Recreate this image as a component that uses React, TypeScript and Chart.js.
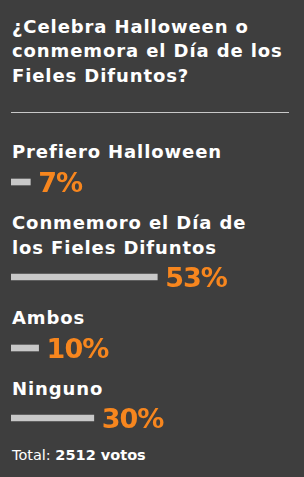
import React, { useEffect, useRef } from "react";
import { Chart, registerables } from "chart.js";

Chart.register(...registerables);

const TITLE_LINES = ["¿Celebra Halloween o", "conmemora el Día de los", "Fieles Difuntos?"];
const OPTION_LABELS: string[][] = [
  ["Prefiero Halloween"],
  ["Conmemoro el Día de", "los Fieles Difuntos"],
  ["Ambos"],
  ["Ninguno"],
];
const PERCENTAGES = [7, 53, 10, 30];
const TOTAL_LABEL = "Total:";
const TOTAL_VOTES = 2512;
const VOTES_WORD = "votos";

const BG = "#3e3e3e";
const BAR_COLOR = "#c8c8c8";
const ORANGE = "#f7861e";
const FONT = '"DejaVu Sans", sans-serif';

function BarRow({ value, label }: { value: number; label: string }) {
  const ref = useRef<HTMLCanvasElement>(null);
  useEffect(() => {
    if (!ref.current) return;
    const pctPlugin = {
      id: "pctLabel",
      afterDatasetsDraw(chart: any) {
        const ctx = chart.ctx;
        const meta = chart.getDatasetMeta(0);
        meta.data.forEach((bar: any, i: number) => {
          const v = chart.data.datasets[0].data[i];
          ctx.save();
          ctx.font = `bold 27px ${FONT}`;
          (ctx as any).letterSpacing = "-1px";
          ctx.fillStyle = ORANGE;
          ctx.textBaseline = "alphabetic";
          ctx.textAlign = "left";
          ctx.fillText(`${v}%`, bar.x + 8, bar.y + 10.3);
          ctx.restore();
        });
      },
    };
    const chart = new Chart(ref.current, {
      type: "bar",
      data: {
        labels: [label],
        datasets: [
          {
            data: [value],
            backgroundColor: BAR_COLOR,
            borderWidth: 0,
            barThickness: 6,
          },
        ],
      },
      options: {
        indexAxis: "y",
        responsive: false,
        animation: false,
        layout: { padding: { left: 11, right: 17, top: 0, bottom: 0 } },
        scales: {
          x: { type: "linear", min: 0, max: 100, display: false },
          y: { display: false },
        },
        plugins: { legend: { display: false }, tooltip: { enabled: false } },
      },
      plugins: [pctPlugin],
    });
    return () => chart.destroy();
  }, [value, label]);
  return (
    <canvas
      ref={ref}
      width={304}
      height={30}
      style={{ display: "block", width: 304, height: 30, marginLeft: -12, marginTop: 2.5 }}
    />
  );
}

export default function App() {
  useEffect(() => {
    document.body.style.margin = "0";
  }, []);
  const labelStyle: React.CSSProperties = {
    fontFamily: FONT,
    fontWeight: "bold",
    fontSize: 18,
    lineHeight: "25px",
    letterSpacing: "0.9px",
    color: "#ffffff",
    marginTop: 13,
    whiteSpace: "nowrap",
  };
  return (
    <div
      style={{
        position: "absolute",
        left: 0,
        top: 0,
        width: 304,
        height: 477,
        background: BG,
        paddingLeft: 12,
        boxSizing: "border-box",
        overflow: "hidden",
      }}
    >
      <div
        style={{
          fontFamily: FONT,
          fontWeight: "bold",
          fontSize: 18,
          lineHeight: "24.5px",
          letterSpacing: "0.9px",
          color: "#ffffff",
          marginTop: 14.5,
          whiteSpace: "nowrap",
        }}
      >
        {TITLE_LINES.map((l, i) => (
          <div key={i}>{l}</div>
        ))}
      </div>
      <div style={{ height: 1, background: "#c8c8c8", width: 278, marginLeft: -1, marginTop: 24 }} />
      {OPTION_LABELS.map((lines, i) => (
        <React.Fragment key={i}>
          <div style={{ ...labelStyle, marginTop: i === 0 ? 26 : 13 }}>
            {lines.map((l, j) => (
              <div key={j}>{l}</div>
            ))}
          </div>
          <BarRow value={PERCENTAGES[i]} label={lines.join(" ")} />
        </React.Fragment>
      ))}
      <div
        style={{
          fontFamily: FONT,
          fontSize: 14.5,
          lineHeight: "20px",
          color: "#ffffff",
          marginTop: 11.5,
          whiteSpace: "nowrap",
        }}
      >
        {TOTAL_LABEL} <b>{TOTAL_VOTES} {VOTES_WORD}</b>
      </div>
    </div>
  );
}
